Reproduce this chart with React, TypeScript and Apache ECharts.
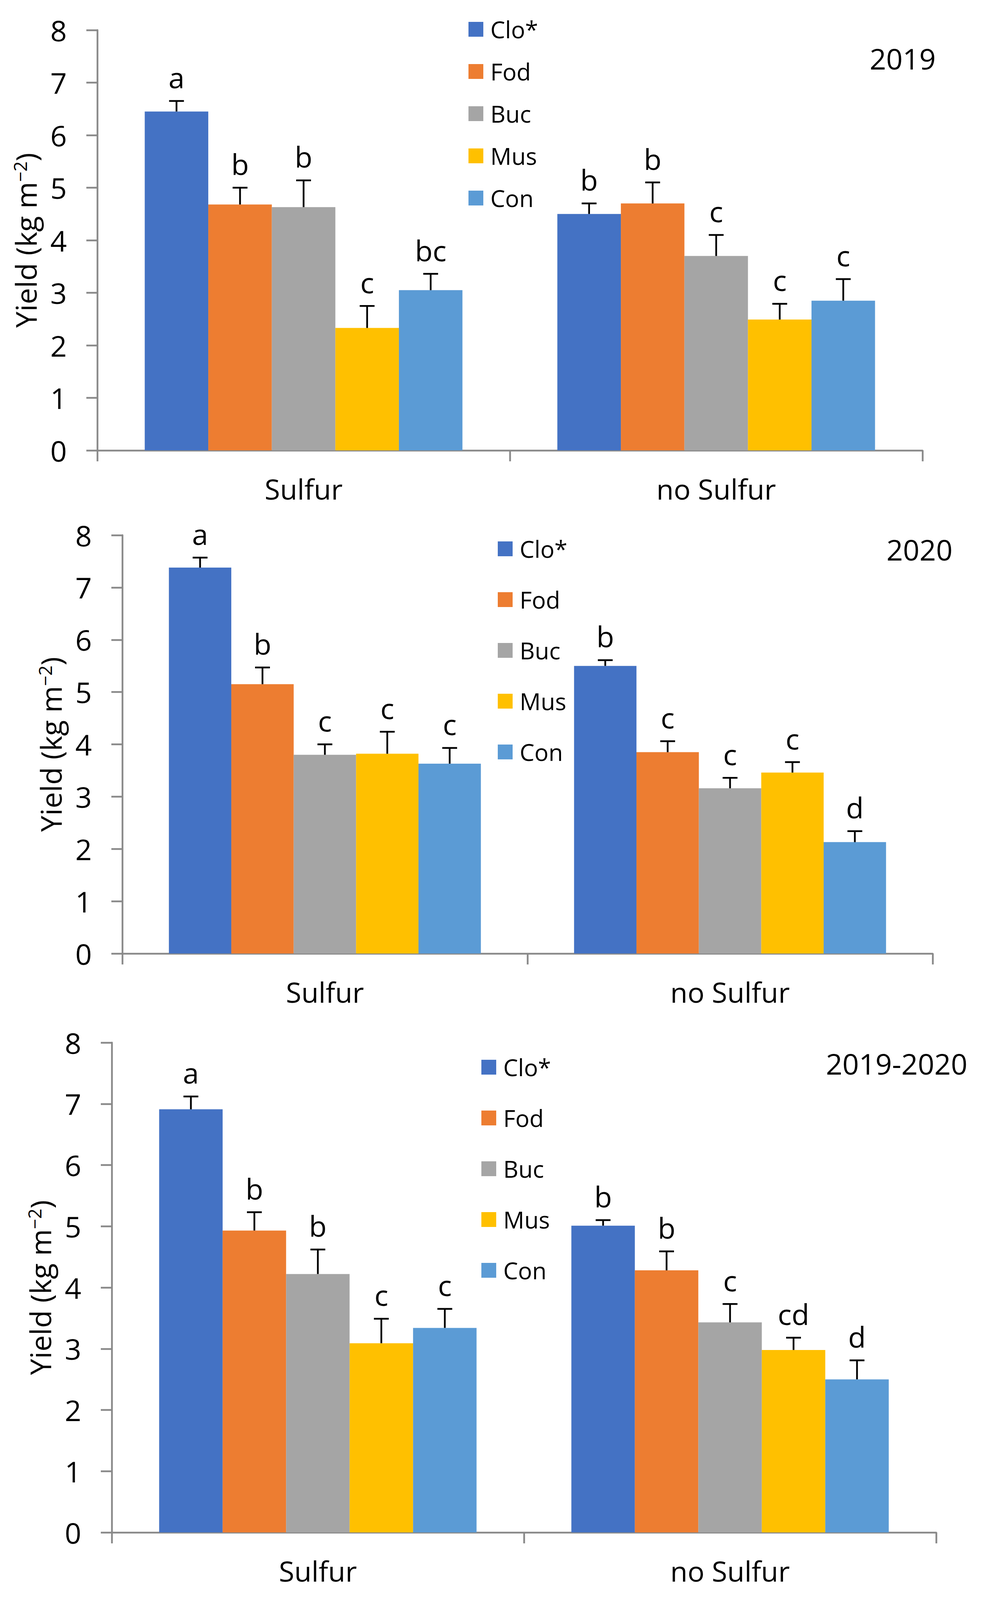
import React, { useEffect, useRef } from "react";
import * as echarts from "echarts";

const FONT = '"Open Sans", "Noto Sans", sans-serif';

const categories = ["Sulfur", "no Sulfur"];
const treatments = ["Clo*", "Fod", "Buc", "Mus", "Con"];
const colors = ["#4472C4", "#ED7D31", "#A5A5A5", "#FFC000", "#5B9BD5"];
const yTicks = [0, 8, 1];

// 2019  (per treatment: [Sulfur, no Sulfur])
const yield2019 = [[6.45, 4.5], [4.68, 4.7], [4.63, 3.7], [2.33, 2.49], [3.05, 2.85]];
const err2019 = [[0.2, 0.2], [0.32, 0.4], [0.51, 0.4], [0.42, 0.3], [0.31, 0.41]];
const letters2019 = [["a", "b"], ["b", "b"], ["b", "c"], ["c", "c"], ["bc", "c"]];

// 2020
const yield2020 = [[7.38, 5.5], [5.15, 3.85], [3.8, 3.16], [3.82, 3.46], [3.63, 2.13]];
const err2020 = [[0.19, 0.11], [0.32, 0.21], [0.2, 0.2], [0.42, 0.2], [0.3, 0.21]];
const letters2020 = [["a", "b"], ["b", "c"], ["c", "c"], ["c", "c"], ["c", "d"]];

// 2019-2020
const yieldBoth = [[6.91, 5.01], [4.93, 4.28], [4.22, 3.43], [3.09, 2.98], [3.34, 2.5]];
const errBoth = [[0.21, 0.09], [0.3, 0.31], [0.4, 0.3], [0.4, 0.2], [0.31, 0.31]];
const lettersBoth = [["a", "b"], ["b", "b"], ["b", "c"], ["c", "cd"], ["c", "d"]];

const panelTitles = ["2019", "2020", "2019-2020"];
const panelData = [
  { values: yield2019, errs: err2019, letters: letters2019 },
  { values: yield2020, errs: err2020, letters: letters2020 },
  { values: yieldBoth, errs: errBoth, letters: lettersBoth },
];

// layout (pixels)
const layouts = [
  { grid: { left: 249, top: 77, width: 2112, height: 1076 }, legend: { left: 1199, top: 45, itemGap: 48 }, title: { x: 2395, y: 149 } },
  { grid: { left: 313, top: 1370, width: 2074, height: 1071 }, legend: { left: 1274, top: 1375, itemGap: 70 }, title: { x: 2438, y: 1406 } },
  { grid: { left: 286, top: 2669, width: 2110, height: 1254 }, legend: { left: 1232, top: 2702, itemGap: 70 }, title: { x: 2476, y: 2722 } },
];

const CAT_GAP = 0.23;
const AXIS_COLOR = "#898989";
const AXIS_W = 4.5;

function buildOption() {
  const grid: any[] = [];
  const xAxis: any[] = [];
  const yAxis: any[] = [];
  const legend: any[] = [];
  const series: any[] = [];
  const graphic: any[] = [];

  layouts.forEach((lay, g) => {
    grid.push({ ...lay.grid, containLabel: false });
    xAxis.push({
      type: "category",
      gridIndex: g,
      data: categories,
      axisLine: { show: true, lineStyle: { color: AXIS_COLOR, width: AXIS_W } },
      axisTick: { show: true, length: 28, lineStyle: { color: AXIS_COLOR, width: AXIS_W } },
      axisLabel: { fontSize: 72, fontFamily: FONT, color: "#000", margin: 62 },
      splitLine: { show: false },
    });
    yAxis.push({
      type: "value",
      gridIndex: g,
      min: yTicks[0],
      max: yTicks[1],
      interval: yTicks[2],
      name: "Yield (kg m{sup|−2})",
      nameLocation: "middle",
      nameGap: 147,
      nameTextStyle: {
        fontSize: 74,
        lineHeight: 74,
        fontFamily: FONT,
        color: "#000",
        rich: {
          sup: { fontSize: 46, lineHeight: 74, verticalAlign: "top", fontFamily: FONT, color: "#000", padding: [0, 0, 30, 0] },
        },
      },
      axisLine: { show: true, lineStyle: { color: AXIS_COLOR, width: AXIS_W } },
      axisTick: { show: true, length: 28, lineStyle: { color: AXIS_COLOR, width: AXIS_W } },
      axisLabel: { fontSize: 74, fontFamily: FONT, color: "#000", margin: 78 },
      splitLine: { show: false },
    });
    legend.push({
      orient: "vertical",
      left: lay.legend.left,
      top: lay.legend.top,
      itemGap: lay.legend.itemGap,
      itemWidth: 38,
      itemHeight: 38,
      icon: "rect",
      padding: 0,
      selectedMode: false,
      textStyle: { fontSize: 60, lineHeight: 60, fontFamily: FONT, color: "#000", padding: [0, 0, 0, 13] },
      data: treatments,
    });

    const pd = panelData[g];
    treatments.forEach((t, i) => {
      series.push({
        type: "bar",
        name: t,
        xAxisIndex: g,
        yAxisIndex: g,
        data: pd.values[i],
        itemStyle: { color: colors[i] },
        barGap: "0%",
        barCategoryGap: CAT_GAP * 100 + "%",
        z: 2,
      });
    });

    const errData: number[][] = [];
    const errLetters: string[] = [];
    categories.forEach((_, c) => {
      treatments.forEach((__, i) => {
        errData.push([c, i, pd.values[i][c], pd.errs[i][c]]);
        errLetters.push(pd.letters[i][c]);
      });
    });
    series.push({
      type: "custom",
      name: "err" + g,
      xAxisIndex: g,
      yAxisIndex: g,
      z: 5,
      clip: false,
      encode: { x: 0, y: 2 },
      data: errData,
      renderItem: (params: any, api: any) => {
        const c = api.value(0);
        const s = api.value(1);
        const v = api.value(2);
        const e = api.value(3);
        const base = api.coord([c, v]);
        const top = api.coord([c, v + e]);
        const catW = api.size([1, 0])[0];
        const bw = (catW * (1 - CAT_GAP)) / treatments.length;
        const x = base[0] + (s - (treatments.length - 1) / 2) * bw;
        const stroke = { stroke: "#000", lineWidth: 4.5 };
        return {
          type: "group",
          children: [
            { type: "line", shape: { x1: x, y1: base[1], x2: x, y2: top[1] }, style: stroke },
            { type: "line", shape: { x1: x - 19, y1: top[1], x2: x + 19, y2: top[1] }, style: stroke },
            {
              type: "text",
              x: x,
              y: top[1] - 24,
              style: {
                text: errLetters[params.dataIndex],
                fontSize: 74,
                fontFamily: FONT,
                fill: "#000",
                align: "center",
                verticalAlign: "bottom",
              },
            },
          ],
        };
      },
    });

    graphic.push({
      type: "text",
      x: lay.title.x,
      y: lay.title.y,
      style: {
        text: panelTitles[g],
        fontSize: 74,
        fontFamily: FONT,
        fill: "#000",
        align: "right",
        verticalAlign: "middle",
      },
    });
  });

  return {
    animation: false,
    backgroundColor: "#ffffff",
    grid,
    xAxis,
    yAxis,
    legend,
    series,
    graphic,
  };
}

export default function App() {
  const ref = useRef<HTMLDivElement>(null);
  useEffect(() => {
    document.body.style.margin = "0";
    if (!ref.current) return;
    const chart = echarts.init(ref.current, null, { renderer: "svg" });
    chart.setOption(buildOption() as any);
    return () => chart.dispose();
  }, []);
  return <div ref={ref} style={{ width: 2521, height: 4108, background: "#fff" }} />;
}
